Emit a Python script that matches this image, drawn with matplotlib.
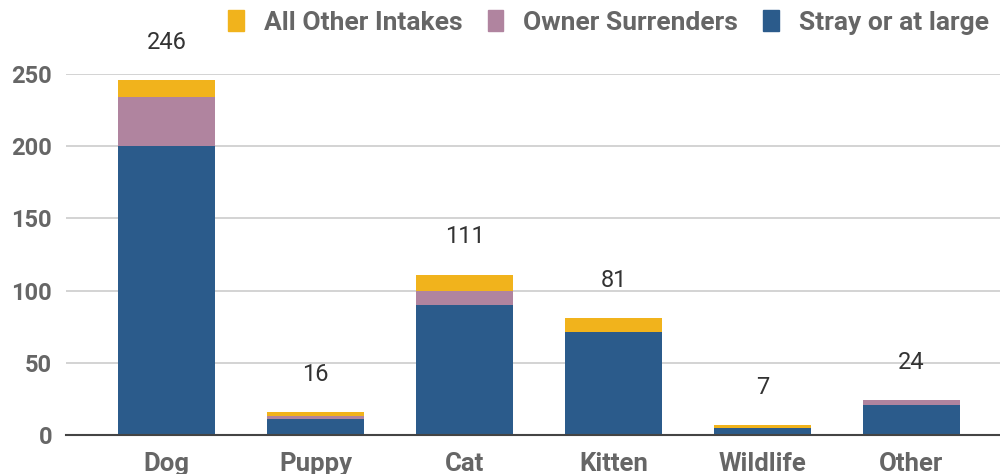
import numpy as np
import matplotlib.pyplot as plt
from matplotlib.patches import Patch

categories = ['Dog', 'Puppy', 'Cat', 'Kitten', 'Wildlife', 'Other']
stray = [200, 11, 90, 71, 5, 21]
owner = [34, 2, 10, 0, 0, 3]
other_intakes = [12, 3, 11, 10, 2, 0]
totals = [246, 16, 111, 81, 7, 24]

c_stray = '#2B5B8B'
c_owner = '#B0849F'
c_other = '#F1B31C'

plt.rcParams['font.family'] = ['Roboto', 'DejaVu Sans']

fig = plt.figure(figsize=(10, 4.74), dpi=100)
ax = fig.add_axes([0.066, 0.0823, 0.934, 0.7616])

x = np.arange(len(categories))
w = 0.65
stray = np.array(stray)
owner = np.array(owner)
other_intakes = np.array(other_intakes)
ax.bar(x, stray, w, color=c_stray, zorder=3)
ax.bar(x, owner, w, bottom=stray, color=c_owner, zorder=3)
ax.bar(x, other_intakes, w, bottom=stray + owner, color=c_other, zorder=3)

for xi, t in zip(x, totals):
    ax.annotate(str(t), (xi, t), xytext=(0, 22.5), textcoords='offset points',
                ha='center', va='baseline', fontsize=17, color='#333333',
                annotation_clip=False)

ax.set_xlim(-0.6745, 5.594)
ax.set_ylim(0, 250)
ax.set_yticks([0, 50, 100, 150, 200, 250])
ax.set_xticks(x)
ax.set_xticklabels(categories, fontsize=18.5, fontweight='bold', color='#666666')
ax.tick_params(axis='y', labelsize=17, colors='#666666', length=0, pad=10)
for lab in ax.get_yticklabels():
    lab.set_fontweight('bold')
ax.tick_params(axis='x', length=0, pad=12)
ax.grid(axis='y', color='#cccccc', linewidth=1.2, zorder=0)
for s in ['top', 'right', 'left']:
    ax.spines[s].set_visible(False)
ax.spines['bottom'].set_color('#444444')
ax.spines['bottom'].set_linewidth(1.5)
ax.spines['bottom'].set_zorder(4)

handles = [Patch(color=c_other, label='All Other Intakes'),
           Patch(color=c_owner, label='Owner Surrenders'),
           Patch(color=c_stray, label='Stray or at large')]
leg = fig.legend(handles=handles, ncol=3, loc='upper right', bbox_to_anchor=(0.994, 0.99),
                 frameon=False, borderpad=0.2, borderaxespad=0,
                 handlelength=0.6, handleheight=0.85, handletextpad=0.75,
                 columnspacing=0.95, prop={'size': 19, 'weight': 'bold'})
for t in leg.get_texts():
    t.set_color('#666666')

plt.savefig('out.png', dpi=100)
